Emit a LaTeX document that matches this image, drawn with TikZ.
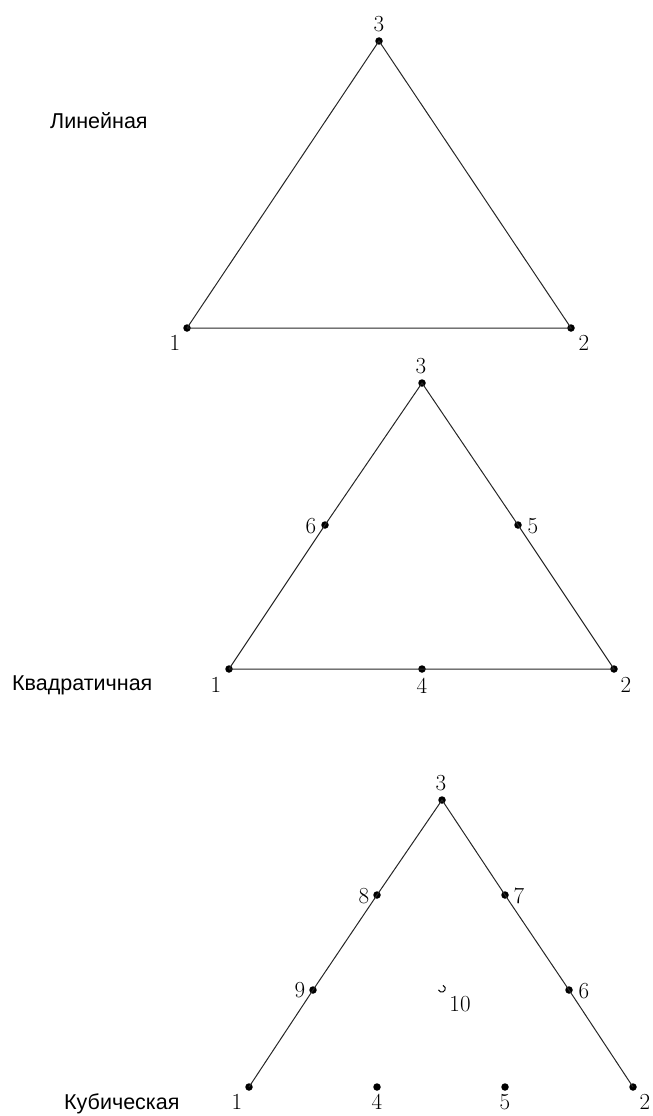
\documentclass[tikz,border=0pt]{standalone}
\usepackage{fontspec}
\newfontfamily\rufont{Liberation Sans}
\begin{document}
\begin{tikzpicture}[x=1pt,y=-1pt,
  pt/.style={circle,fill=black,inner sep=0pt,minimum size=7.5pt},
  num/.style={inner sep=0pt,font=\fontsize{23}{23}\selectfont},
  rucap/.style={inner sep=0pt,anchor=base west,font=\rufont\fontsize{21.5}{21.5}\selectfont},
  edge/.style={draw=black!85,line width=1pt}]
\useasboundingbox (0,0) rectangle (653,1116);
% Linear
\node[pt] (l1) at (187,328) {};
\node[pt] (l2) at (571,328) {};
\node[pt] (l3) at (379,41) {};
\draw[edge] (l1.center) -- (l2.center) -- (l3.center) -- (l1.center);
\node[num] (t1) at (175,343) {1};
\node[num] (t2) at (584,343) {2};
\node[num] (t3) at (379,24) {3};
\node[rucap] (cl) at (50,128) {Линейная};
% Quadratic
\node[pt] (q1) at (229,669) {};
\node[pt] (q2) at (614,669) {};
\node[pt] (q3) at (422,383) {};
\node[pt] (q4) at (422,669) {};
\node[pt] (q5) at (518,525) {};
\node[pt] (q6) at (325,525) {};
\draw[edge] (q1.center) -- (q4.center) -- (q2.center) -- (q5.center) -- (q3.center) -- (q6.center) -- (q1.center);
\node[num] (u1) at (216,685) {1};
\node[num] (u2) at (626,685) {2};
\node[num] (u3) at (421,366) {3};
\node[num] (u4) at (422,686) {4};
\node[num] (u5) at (533,526) {5};
\node[num] (u6) at (311,526) {6};
\node[rucap] (cq) at (12,690) {Квадратичная};
% Cubic
\node[pt] (c1) at (249,1087) {};
\node[pt] (c2) at (633,1087) {};
\node[pt] (c3) at (442,800) {};
\node[pt] (c4) at (377,1087) {};
\node[pt] (c5) at (505,1087) {};
\node[pt] (c6) at (569,990) {};
\node[pt] (c7) at (505,895) {};
\node[pt] (c8) at (377,895) {};
\node[pt] (c9) at (313,990) {};
\draw[edge] (c1.center) -- (c9.center) -- (c8.center) -- (c3.center) -- (c7.center) -- (c6.center) -- (c2.center);
\node[num] (v1) at (237,1102) {1};
\node[num] (v2) at (645,1102) {2};
\node[num] (v3) at (441,783) {3};
\node[num] (v4) at (377,1102) {4};
\node[num] (v5) at (505,1102) {5};
\node[num] (v6) at (584,991) {6};
\node[num] (v7) at (519,896) {7};
\node[num] (v8) at (364,896) {8};
\node[num] (v9) at (300,990) {9};
\node[num] (v10) at (460,1004) {10};
\coordinate (m10) at (442,991);
\draw[line width=1pt] (m10) ++(-3.5,-1.2) arc[start angle=160,end angle=-70,radius=3.5];
\node[rucap] (cc) at (64,1109) {Кубическая};
\end{tikzpicture}
\end{document}
